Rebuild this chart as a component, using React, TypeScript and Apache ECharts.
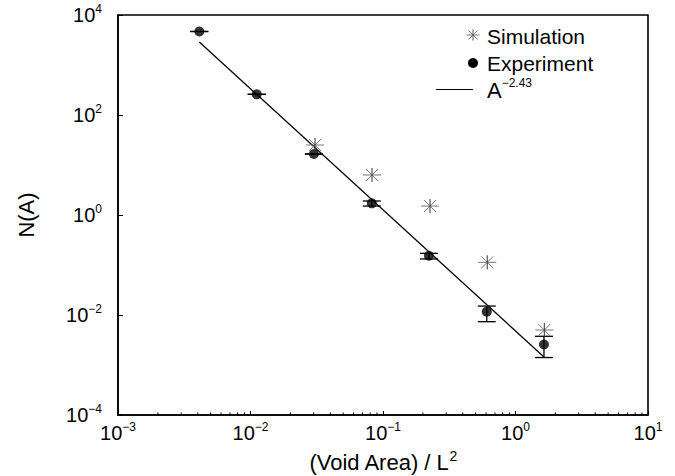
import React, { useEffect, useRef } from "react";
import * as echarts from "echarts";

// ---- data ----
const experimentX = [0.00411, 0.01114, 0.0301, 0.0823, 0.222, 0.607, 1.64];
const experimentY = [4680, 259, 16.6, 1.71, 0.153, 0.01164, 0.00257];
const errorLow = [4680, 259, 16.6, 1.51, 0.132, 0.00735, 0.00141];
const errorHigh = [4680, 259, 16.6, 1.905, 0.171, 0.0151, 0.00375];
const simulationX = [0.0307, 0.0826, 0.2265, 0.612, 1.65];
const simulationY = [25.1, 6.31, 1.51, 0.113, 0.005];
const fitX = [0.00411, 1.64];
const fitY = [2884, 0.00145];
const xTickExponents = [-3, -2, -1, 0, 1];
const yTickExponents = [-4, -2, 0, 2, 4];
const xMinorTicks = [
  0.002, 0.003, 0.004, 0.005, 0.006, 0.007, 0.008, 0.009,
  0.02, 0.03, 0.04, 0.05, 0.06, 0.07, 0.08, 0.09,
  0.2, 0.3, 0.4, 0.5, 0.6, 0.7, 0.8, 0.9,
  2, 3, 4, 5, 6, 7, 8, 9,
];
const seriesNames = ["Simulation", "Experiment", "A"];
const fitExponentLabel = "−2.43";

const FONT = "'Liberation Sans', Arial, Helvetica, sans-serif";

function expLabel(exps: number[]) {
  return (v: number) => {
    const e = Math.round(Math.log10(v));
    if (exps.indexOf(e) < 0) return "";
    const s = e < 0 ? "−" + -e : String(e);
    return `{b|10}{e|${s}}`;
  };
}

const tickRich = {
  b: { fontSize: 20, lineHeight: 24, fontFamily: FONT, color: "#000" },
  e: { fontSize: 12, lineHeight: 12, fontFamily: FONT, color: "#000", verticalAlign: "top" },
};

export default function App() {
  const ref = useRef<HTMLDivElement>(null);
  useEffect(() => {
    if (!ref.current) return;
    const chart = echarts.init(ref.current, undefined, { renderer: "svg" });
    const option: any = {
      animation: false,
      backgroundColor: "#fff",
      grid: {
        left: 118,
        top: 15,
        right: 27,
        bottom: 61,
        containLabel: false,
        outerBoundsMode: "none",
        show: true,
        borderColor: "#000",
        borderWidth: 1.6,
        backgroundColor: "transparent",
      },
      xAxis: {
        type: "log",
        logBase: 10,
        min: 0.001,
        max: 10,
        interval: 1,
        name: "{n|(Void Area) / L}{s|2}",
        nameLocation: "middle",
        nameGap: 34,
        nameMoveOverlap: false,
        nameTextStyle: {
          rich: {
            n: { fontSize: 22, lineHeight: 26, fontFamily: FONT, color: "#000" },
            s: { fontSize: 14, lineHeight: 14, fontFamily: FONT, color: "#000", verticalAlign: "top" },
          },
        },
        axisLine: { show: true, lineStyle: { color: "#000", width: 1.6 } },
        axisTick: { show: true, inside: true, length: 4, lineStyle: { color: "#000" } },
        minorTick: { show: false },
        splitLine: { show: false },
        axisLabel: { formatter: expLabel(xTickExponents), rich: tickRich, margin: 6 },
      },
      yAxis: {
        type: "log",
        logBase: 10,
        min: 1e-4,
        max: 1e4,
        interval: 2,
        name: "N(A)",
        nameLocation: "middle",
        nameGap: 81,
        nameMoveOverlap: false,
        nameTextStyle: { fontSize: 22, fontFamily: FONT, color: "#000" },
        axisLine: { show: true, lineStyle: { color: "#000", width: 1.6 } },
        axisTick: { show: true, inside: true, length: 5, lineStyle: { color: "#000" } },
        splitLine: { show: false },
        axisLabel: { formatter: expLabel(yTickExponents), rich: tickRich, margin: 16 },
      },
      series: [
        {
          name: "minorTicks",
          type: "custom",
          silent: true,
          data: xMinorTicks.map((v) => [v, 1e-4]),
          renderItem: (params: any, api: any) => {
            const p = api.coord([api.value(0), api.value(1)]);
            return {
              type: "line",
              shape: { x1: p[0], y1: p[1], x2: p[0], y2: p[1] - 2.5 },
              style: { stroke: "#000", lineWidth: 1 },
            };
          },
        },
        {
          name: seriesNames[2],
          type: "line",
          data: fitX.map((x, i) => [x, fitY[i]]),
          showSymbol: false,
          symbol: "none",
          lineStyle: { color: "#000", width: 1.3 },
          z: 2,
        },
        {
          name: "errors",
          type: "custom",
          data: experimentX.map((x, i) => [x, errorLow[i], errorHigh[i]]),
          encode: { x: 0, y: [1, 2] },
          z: 3,
          renderItem: (params: any, api: any) => {
            const x = api.value(0);
            const lo = api.coord([x, api.value(1)]);
            const hi = api.coord([x, api.value(2)]);
            const hw = 9;
            const style = { stroke: "#000", lineWidth: 1.3 };
            return {
              type: "group",
              children: [
                { type: "line", shape: { x1: lo[0], y1: lo[1], x2: hi[0], y2: hi[1] }, style },
                { type: "line", shape: { x1: lo[0] - hw, y1: lo[1], x2: lo[0] + hw, y2: lo[1] }, style },
                { type: "line", shape: { x1: hi[0] - hw, y1: hi[1], x2: hi[0] + hw, y2: hi[1] }, style },
              ],
            };
          },
        },
        {
          name: seriesNames[1],
          type: "scatter",
          data: experimentX.map((x, i) => [x, experimentY[i]]),
          symbol: "circle",
          symbolSize: 10,
          itemStyle: { color: "#000" },
          z: 4,
        },
        {
          name: seriesNames[0],
          type: "custom",
          data: simulationX.map((x, i) => [x, simulationY[i]]),
          z: 5,
          renderItem: (params: any, api: any) => {
            const p = api.coord([api.value(0), api.value(1)]);
            const [cx, cy] = p;
            const g = { stroke: "#777", lineWidth: 1 };
            const d = { stroke: "#333", lineWidth: 1 };
            return {
              type: "group",
              children: [
                { type: "line", shape: { x1: cx - 6, y1: cy - 6, x2: cx + 6, y2: cy + 6 }, style: g },
                { type: "line", shape: { x1: cx - 6, y1: cy + 6, x2: cx + 6, y2: cy - 6 }, style: g },
                { type: "line", shape: { x1: cx - 9, y1: cy, x2: cx + 9, y2: cy }, style: g },
                { type: "line", shape: { x1: cx, y1: cy - 7, x2: cx, y2: cy + 7 }, style: d },
              ],
            };
          },
        },
      ],
      graphic: [
        {
          type: "group",
          x: 473,
          y: 35,
          children: [
            { type: "line", shape: { x1: -4.5, y1: -4.5, x2: 4.5, y2: 4.5 }, style: { stroke: "#777", lineWidth: 1 } },
            { type: "line", shape: { x1: -4.5, y1: 4.5, x2: 4.5, y2: -4.5 }, style: { stroke: "#777", lineWidth: 1 } },
            { type: "line", shape: { x1: -6.5, y1: 0, x2: 6.5, y2: 0 }, style: { stroke: "#777", lineWidth: 1 } },
            { type: "line", shape: { x1: 0, y1: -5.5, x2: 0, y2: 5.5 }, style: { stroke: "#555", lineWidth: 1 } },
          ],
        },
        {
          type: "text",
          x: 487,
          y: 36,
          style: { text: seriesNames[0], font: `21px ${FONT}`, fill: "#000", verticalAlign: "middle" },
        },
        { type: "circle", shape: { cx: 473, cy: 63, r: 5 }, style: { fill: "#000" } },
        {
          type: "text",
          x: 487,
          y: 63,
          style: { text: seriesNames[1], font: `21px ${FONT}`, fill: "#000", verticalAlign: "middle" },
        },
        { type: "line", shape: { x1: 436, y1: 89.5, x2: 473, y2: 89.5 }, style: { stroke: "#000", lineWidth: 1.2 } },
        {
          type: "text",
          x: 487,
          y: 77,
          style: {
            text: `{a|${seriesNames[2]}}{s|${fitExponentLabel}}`,
            fill: "#000",
            rich: {
              a: { fontSize: 22, lineHeight: 26, fontFamily: FONT, fill: "#000" },
              s: { fontSize: 12, lineHeight: 12, fontFamily: FONT, fill: "#000", verticalAlign: "top" },
            },
          },
        },
      ],
    };
    chart.setOption(option);
    return () => chart.dispose();
  }, []);
  return (
    <div
      ref={ref}
      style={{ position: "absolute", left: 0, top: 0, width: 675, height: 476 }}
    />
  );
}
